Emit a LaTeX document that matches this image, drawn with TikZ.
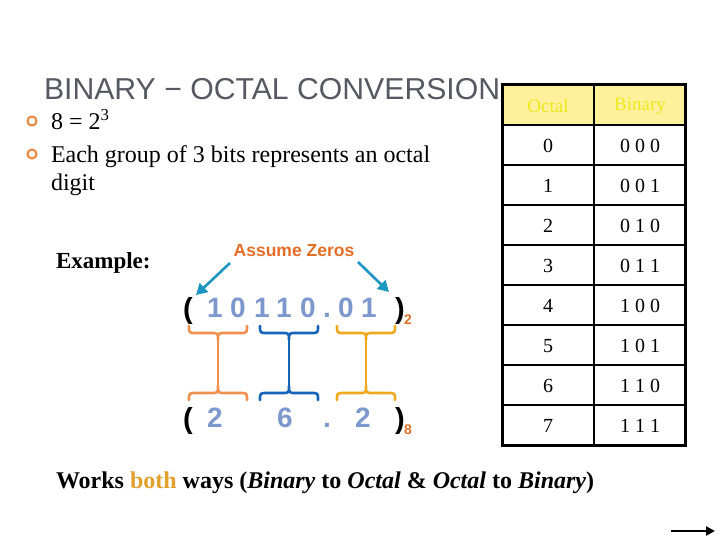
\documentclass[tikz,border=0pt]{standalone}
\usepackage{fontspec}
\setmainfont{Liberation Serif}
\newfontfamily\arialf{Liberation Sans}
\usetikzlibrary{arrows.meta}
\definecolor{titlegray}{RGB}{85,90,98}
\definecolor{bulletorange}{RGB}{232,140,72}
\definecolor{zeroorange}{RGB}{228,110,40}
\definecolor{arrowblue}{RGB}{30,150,195}
\definecolor{digitblue}{RGB}{125,152,205}
\definecolor{braceorange}{RGB}{240,145,80}
\definecolor{braceblue}{RGB}{22,100,185}
\definecolor{braceyellow}{RGB}{240,168,30}
\definecolor{headfill}{RGB}{255,240,155}
\definecolor{headtext}{RGB}{238,232,30}
\definecolor{bothgold}{RGB}{225,160,45}
\tikzset{
  txt/.style={inner sep=0pt, outer sep=0pt, anchor=base west},
  dig/.style={inner sep=0pt, anchor=base, font=\arialf\bfseries\fontsize{28}{30}\selectfont, text=digitblue},
  par/.style={inner sep=0pt, anchor=base, font=\arialf\bfseries\fontsize{29}{31}\selectfont, text=black},
  subs/.style={inner sep=0pt, anchor=base west, font=\arialf\bfseries\fontsize{14}{16}\selectfont, text=zeroorange},
  bullet/.style={circle, draw=bulletorange, line width=2.2pt, minimum size=9pt, inner sep=0pt},
  cell/.style={inner sep=0pt, anchor=center, font=\fontsize{20}{22}\selectfont},
  hcell/.style={inner sep=0pt, anchor=center, font=\fontsize{19}{21}\selectfont, text=headtext},
  bracestyle/.style={line width=2.6pt, line cap=round, line join=round},
  zeroarrow/.style={draw=arrowblue, line width=2.6pt, -{Triangle[length=11pt,width=12pt]}},
}
\newcommand{\Igroup}[4]{% xa, xm, xb, color
  \draw[bracestyle, draw=#4]
    (#1,326) .. controls (#1,333) .. (#1+7,333) -- (#2-7,333) .. controls (#2,333) .. (#2,340)
    .. controls (#2,333) .. (#2+7,333) -- (#3-7,333) .. controls (#3,333) .. (#3,326);
  \draw[bracestyle, draw=#4] (#2,340) -- (#2,386);
  \draw[bracestyle, draw=#4]
    (#1,400) .. controls (#1,393) .. (#1+7,393) -- (#2-7,393) .. controls (#2,393) .. (#2,386)
    .. controls (#2,393) .. (#2+7,393) -- (#3-7,393) .. controls (#3,393) .. (#3,400);
}
\begin{document}
\begin{tikzpicture}[x=1pt,y=-1pt]
\useasboundingbox (0,0) rectangle (720,540);
\fill[white] (0,0) rectangle (720,540);

% title
\node[txt, font=\arialf\fontsize{30.2}{32}\selectfont, text=titlegray] (title) at (44,100) {BINARY − OCTAL CONVERSION};

% bullets
\node[bullet] (b1) at (32,121) {};
\node[bullet] (b2) at (32,154) {};
\node[txt, font=\fontsize{24}{26}\selectfont] (t1) at (51,130) {8 = 2\textsuperscript{3}};
\node[txt, font=\fontsize{24}{26}\selectfont] (t2) at (51,163) {Each group of 3 bits represents an octal};
\node[txt, font=\fontsize{24}{26}\selectfont] (t3) at (51,191) {digit};

% example
\node[txt, font=\bfseries\fontsize{23}{25}\selectfont] (ex) at (56,268) {Example:};
\node[inner sep=0pt, anchor=base, font=\arialf\bfseries\fontsize{17.5}{19}\selectfont, text=zeroorange] (assume) at (294,256) {Assume Zeros};
\coordinate (la0) at (230,263);
\coordinate (la1) at (196,295);
\coordinate (ra0) at (358,262);
\coordinate (ra1) at (389,292);
\draw[zeroarrow] (la0) -- (la1);
\draw[zeroarrow] (ra0) -- (ra1);

% binary number
\node[par] (bp1) at (188,318) {(};
\node[dig] (d1) at (215,317) {1};
\node[dig] (d2) at (238,317) {0};
\node[dig] (d3) at (262,317) {1};
\node[dig] (d4) at (284,317) {1};
\node[dig] (d5) at (308,317) {0};
\node[dig] (d6) at (327,317) {.};
\node[dig] (d7) at (346,317) {0};
\node[dig] (d8) at (369,317) {1};
\node[par] (bp2) at (400,318) {)};
\node[subs] (s2) at (404,324) {2};

% braces
\Igroup{189}{218}{247}{braceorange}
\Igroup{260}{289}{318}{braceblue}
\Igroup{337}{366}{395}{braceyellow}

% octal number
\node[par] (op1) at (188,428) {(};
\node[dig] (o1) at (215,427) {2};
\node[dig] (o2) at (285,427) {6};
\node[dig] (o3) at (327,427) {.};
\node[dig] (o4) at (363,427) {2};
\node[par] (op2) at (400,428) {)};
\node[subs] (s8) at (404,434) {8};

% table
\fill[headfill] (502,85) rectangle (685,125);
\foreach \y in {125,165,205,245,285,325,365,405}
  \draw[line width=2pt] (502,\y) -- (685,\y);
\draw[line width=2pt] (594,85) -- (594,445);
\draw[line width=3pt] (502,85) rectangle (685,445);
\node[hcell] (h1) at (548,106) {Octal};
\node[hcell] (h2) at (640,106) {Binary};
\foreach \o/\b [count=\i from 0] in {0/0 0 0,1/0 0 1,2/0 1 0,3/0 1 1,4/1 0 0,5/1 0 1,6/1 1 0,7/1 1 1}{
  \node[cell] (oc\i) at (548,{146+40*\i}) {\o};
  \node[cell] (bc\i) at (640,{146+40*\i}) {\b};
}

% bottom text
\node[txt, font=\bfseries\fontsize{24}{26}\selectfont] (works) at (56,488) {Works \textcolor{bothgold}{both} ways (\textit{Binary} to \textit{Octal} \& \textit{Octal} to \textit{Binary})};

% bottom arrow
\coordinate (na0) at (671,531);
\coordinate (na1) at (715,531);
\draw[line width=2.5pt, -{Triangle[length=9pt,width=9pt]}] (na0) -- (na1);
\end{tikzpicture}
\end{document}
